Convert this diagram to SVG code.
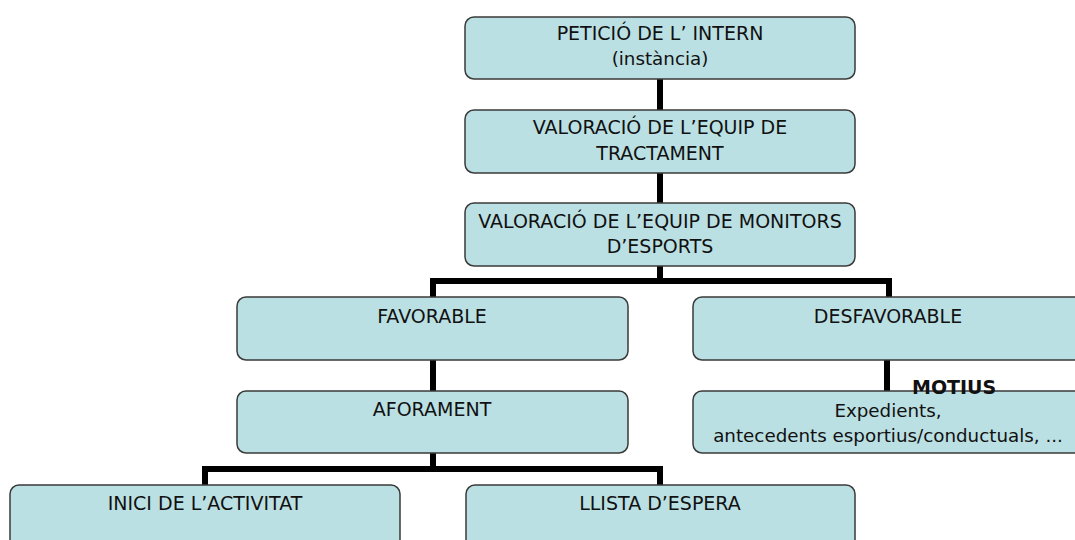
<svg xmlns="http://www.w3.org/2000/svg" width="1075" height="540" viewBox="0 0 1075 540">
<style>
.box{fill:#bbe0e3;stroke:#3a3a3a;stroke-width:1.5}
.t{font-family:"DejaVu Sans",Tahoma,sans-serif;font-size:19px;fill:#111;text-anchor:middle}
.l{font-size:18.3px}
.b{font-family:"DejaVu Sans",Verdana,sans-serif;font-size:19px;font-weight:bold;fill:#111}
.c{fill:none;stroke:#000;stroke-width:6;stroke-linecap:butt;stroke-linejoin:miter}
</style>
<rect width="1075" height="540" fill="#fff"/>
<g id="connectors">
<path class="c" d="M660 79V110M660 173V203M660 266V281M433 297V281H889V297M433 360V391M433 453V469M205 485V469H660V485M887 360V391"/>
</g>
<g id="n1"><rect class="box" x="465" y="17" width="390" height="62" rx="9"/><text class="t" x="660" y="40">PETICIÓ DE L’ INTERN</text><text class="t l" x="660" y="65">(instància)</text></g>
<g id="n2"><rect class="box" x="465" y="110" width="390" height="63" rx="9"/><text class="t" x="660" y="134">VALORACIÓ DE L’EQUIP DE</text><text class="t" x="660" y="160">TRACTAMENT</text></g>
<g id="n3"><rect class="box" x="465" y="203" width="390" height="63" rx="9"/><text class="t" x="660" y="228">VALORACIÓ DE L’EQUIP DE MONITORS</text><text class="t" x="660" y="253">D’ESPORTS</text></g>
<g id="n4"><rect class="box" x="237" y="297" width="391" height="63" rx="9"/><text class="t" x="432" y="323">FAVORABLE</text></g>
<g id="n5"><rect class="box" x="693" y="297" width="392" height="63" rx="9"/><text class="t" x="888" y="323">DESFAVORABLE</text></g>
<g id="n6"><rect class="box" x="237" y="391" width="391" height="62" rx="9"/><text class="t" x="432" y="416">AFORAMENT</text></g>
<g id="n7"><rect class="box" x="693" y="391" width="392" height="62" rx="9"/><text class="t l" x="888" y="417">Expedients,</text><text class="t l" x="888" y="442">antecedents esportius/conductuals, ...</text></g>
<g id="motius"><text class="b" x="912" y="394">MOTIUS</text></g>
<g id="n8"><rect class="box" x="10" y="485" width="390" height="70" rx="9"/><text class="t" x="205" y="510">INICI DE L’ACTIVITAT</text></g>
<g id="n9"><rect class="box" x="466" y="485" width="389" height="70" rx="9"/><text class="t" x="660" y="510">LLISTA D’ESPERA</text></g>
</svg>
